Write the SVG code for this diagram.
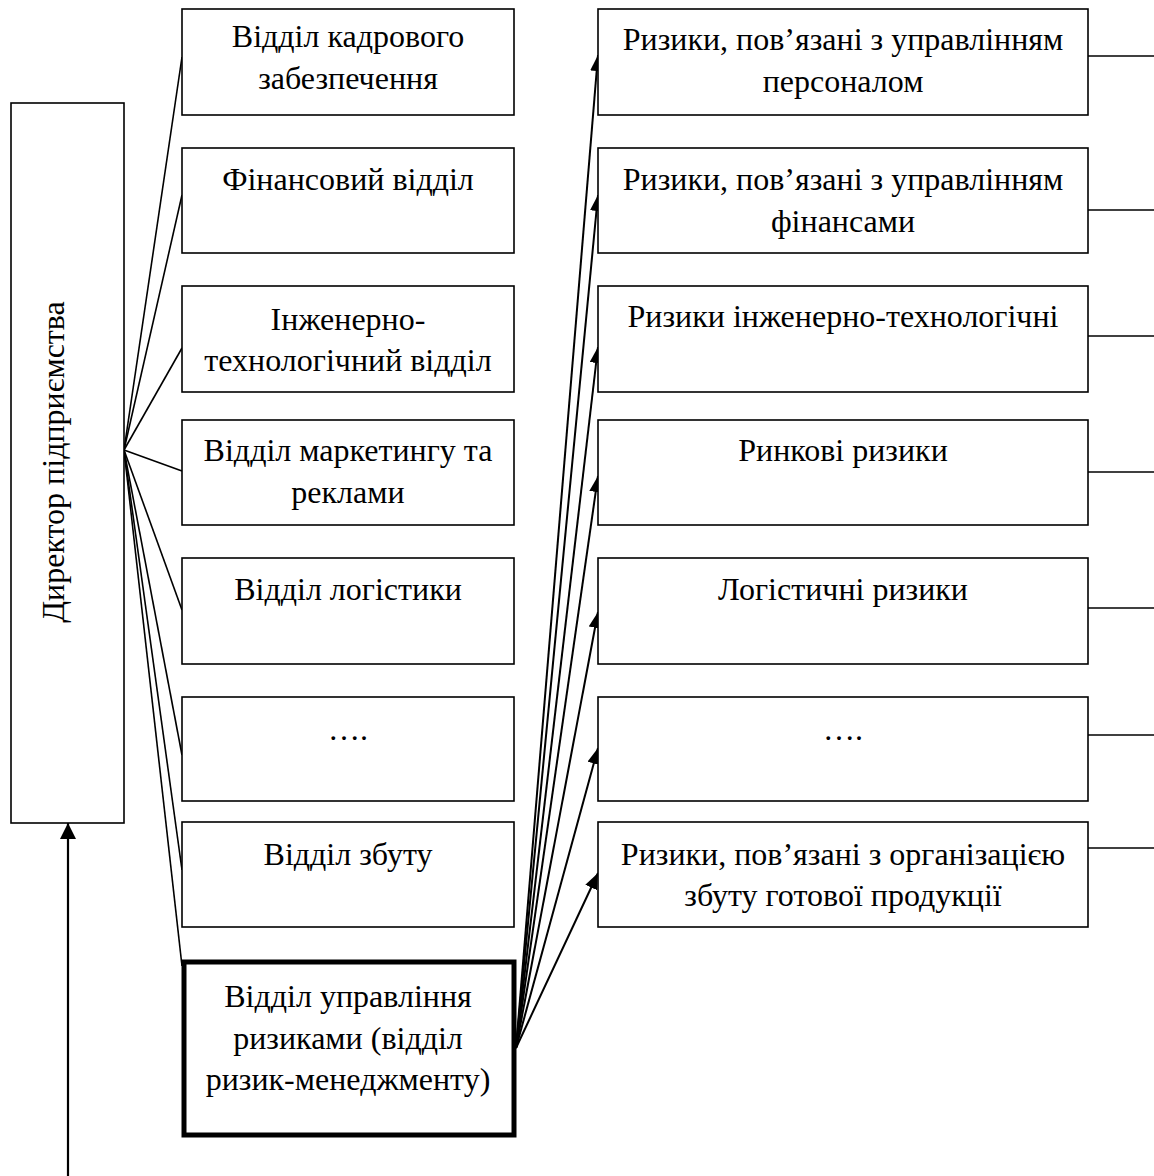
<svg xmlns="http://www.w3.org/2000/svg" width="1154" height="1176" viewBox="0 0 1154 1176">
<style>
.box{fill:#fff;stroke:#000;stroke-width:1.6}
.bold{fill:#fff;stroke:#000;stroke-width:5}
.t{font-family:"Liberation Serif","Times New Roman",serif;font-size:32px;fill:#000;text-anchor:middle}
.ln{stroke:#000;stroke-width:1.6;fill:none}
.ar{stroke:#000;stroke-width:2;fill:none;marker-end:url(#ah)}
</style>
<defs>
<marker id="ah" viewBox="0 0 16 13" refX="16" refY="6.5" markerWidth="16" markerHeight="13" markerUnits="userSpaceOnUse" orient="auto"><path d="M0,0 L16,6.5 L0,13 z" fill="#000"/></marker>
<marker id="ah2" viewBox="0 0 16 16" refX="16" refY="8" markerWidth="16" markerHeight="16" markerUnits="userSpaceOnUse" orient="auto"><path d="M0,0 L16,8 L0,16 z" fill="#000"/></marker>
</defs>
<rect width="1154" height="1176" fill="#fff"/>
<g id="connectors">
<line class="ln" x1="124" y1="450" x2="182" y2="57"/>
<line class="ln" x1="124" y1="450" x2="182" y2="195"/>
<line class="ln" x1="124" y1="450" x2="182" y2="348"/>
<line class="ln" x1="124" y1="450" x2="182" y2="471"/>
<line class="ln" x1="124" y1="450" x2="182" y2="610"/>
<line class="ln" x1="124" y1="450" x2="182" y2="755"/>
<line class="ln" x1="124" y1="450" x2="182" y2="870"/>
<line class="ln" x1="124" y1="450" x2="182" y2="966"/>
<line class="ar" x1="516" y1="1048" x2="598" y2="55"/>
<line class="ar" x1="516" y1="1048" x2="598" y2="195"/>
<line class="ar" x1="516" y1="1048" x2="598" y2="347"/>
<line class="ar" x1="516" y1="1048" x2="598" y2="476"/>
<line class="ar" x1="516" y1="1048" x2="598" y2="612"/>
<line class="ar" x1="516" y1="1048" x2="598" y2="748"/>
<line class="ar" x1="516" y1="1048" x2="598" y2="873"/>
<line class="ln" x1="1088" y1="56" x2="1154" y2="56"/>
<line class="ln" x1="1088" y1="210" x2="1154" y2="210"/>
<line class="ln" x1="1088" y1="336" x2="1154" y2="336"/>
<line class="ln" x1="1088" y1="472" x2="1154" y2="472"/>
<line class="ln" x1="1088" y1="608" x2="1154" y2="608"/>
<line class="ln" x1="1088" y1="735" x2="1154" y2="735"/>
<line class="ln" x1="1088" y1="848" x2="1154" y2="848"/>
<line x1="68" y1="1176" x2="68" y2="823" stroke="#000" stroke-width="2.2" marker-end="url(#ah2)"/>
</g>
<g id="director">
<rect class="box" x="11" y="103" width="113" height="720"/>
<text class="t" transform="translate(64,462) rotate(-90)">Директор підприємства</text>
</g>
<g id="dept-hr">
<rect class="box" x="182" y="9" width="332" height="106"/>
<text class="t" x="348" y="47">Відділ кадрового</text>
<text class="t" x="348" y="89">забезпечення</text>
</g>
<g id="dept-fin">
<rect class="box" x="182" y="148" width="332" height="105"/>
<text class="t" x="348" y="190">Фінансовий відділ</text>
</g>
<g id="dept-eng">
<rect class="box" x="182" y="286" width="332" height="106"/>
<text class="t" x="348" y="330">Інженерно-</text>
<text class="t" x="348" y="371">технологічний відділ</text>
</g>
<g id="dept-mkt">
<rect class="box" x="182" y="420" width="332" height="105"/>
<text class="t" x="348" y="461">Відділ маркетингу та</text>
<text class="t" x="348" y="503">реклами</text>
</g>
<g id="dept-log">
<rect class="box" x="182" y="558" width="332" height="106"/>
<text class="t" x="348" y="600">Відділ логістики</text>
</g>
<g id="dept-etc">
<rect class="box" x="182" y="697" width="332" height="104"/>
<text class="t" x="348" y="740">….</text>
</g>
<g id="dept-sales">
<rect class="box" x="182" y="822" width="332" height="105"/>
<text class="t" x="348" y="865">Відділ збуту</text>
</g>
<g id="dept-risk">
<rect class="bold" x="184" y="962" width="330" height="173"/>
<text class="t" x="348" y="1007">Відділ управління</text>
<text class="t" x="348" y="1049">ризиками (відділ</text>
<text class="t" x="348" y="1090">ризик-менеджменту)</text>
</g>
<g id="risk-hr">
<rect class="box" x="598" y="9" width="490" height="106"/>
<text class="t" x="843" y="50">Ризики, пов’язані з управлінням</text>
<text class="t" x="843" y="92">персоналом</text>
</g>
<g id="risk-fin">
<rect class="box" x="598" y="148" width="490" height="105"/>
<text class="t" x="843" y="190">Ризики, пов’язані з управлінням</text>
<text class="t" x="843" y="232">фінансами</text>
</g>
<g id="risk-eng">
<rect class="box" x="598" y="286" width="490" height="106"/>
<text class="t" x="843" y="327">Ризики інженерно-технологічні</text>
</g>
<g id="risk-mkt">
<rect class="box" x="598" y="420" width="490" height="105"/>
<text class="t" x="843" y="461">Ринкові ризики</text>
</g>
<g id="risk-log">
<rect class="box" x="598" y="558" width="490" height="106"/>
<text class="t" x="843" y="600">Логістичні ризики</text>
</g>
<g id="risk-etc">
<rect class="box" x="598" y="697" width="490" height="104"/>
<text class="t" x="843" y="740">….</text>
</g>
<g id="risk-sales">
<rect class="box" x="598" y="822" width="490" height="105"/>
<text class="t" x="843" y="865">Ризики, пов’язані з організацією</text>
<text class="t" x="843" y="906">збуту готової продукції</text>
</g>
</svg>
